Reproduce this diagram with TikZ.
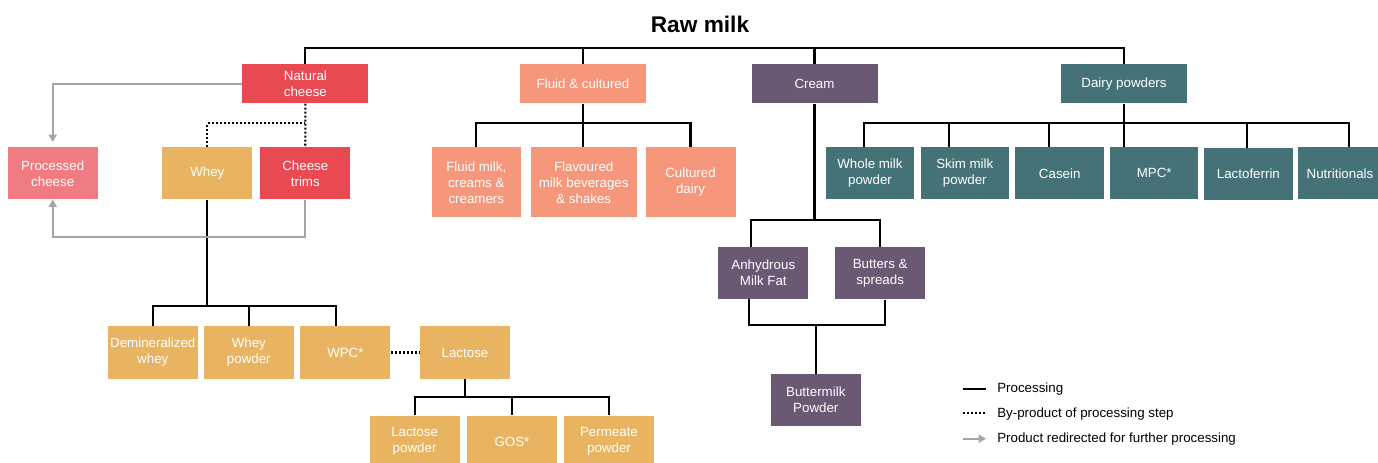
\documentclass[tikz,border=0pt]{standalone}
\usepackage{fontspec}
\setmainfont{Liberation Sans}
\usepackage{tikz}
\usetikzlibrary{positioning}
\usetikzlibrary{arrows.meta}

\definecolor{cheesered}{HTML}{E94A52}
\definecolor{cheesepink}{HTML}{F07B80}
\definecolor{wheygold}{HTML}{E8B461}
\definecolor{fluidsalmon}{HTML}{F6977C}
\definecolor{creampurple}{HTML}{6B5872}
\definecolor{powderteal}{HTML}{447277}
\definecolor{redirgray}{HTML}{A5A5A5}

\begin{document}
\begin{tikzpicture}[x=0.75pt,y=-0.75pt,
  prodbox/.style={rectangle,inner sep=0pt,align=center,text=white,
    font=\fontsize{10}{12}\selectfont,minimum width=67.5pt,minimum height=39pt},
  headbox/.style={minimum width=94.5pt,minimum height=29.25pt},
  fluidbox/.style={minimum height=52.5pt},
  legtext/.style={anchor=base west,inner sep=0pt,font=\fontsize{10}{12}\selectfont},
  proc/.style={line width=1.6pt,black},
  byprod/.style={line width=1.6pt,black,dash pattern=on 1.6pt off 1.4pt},
  redir/.style={line width=1.5pt,redirgray,-{Triangle[length=5.5pt,width=6pt]}}]
\useasboundingbox (0,0) rectangle (1378,463);

\node[font=\fontsize{17}{20}\selectfont\bfseries] (raw) at (700,24) {Raw milk};

% first level
\node[prodbox,headbox,fill=cheesered] (nat) at (305.4,83.8) {Natural\\cheese};
\node[prodbox,headbox,fill=fluidsalmon] (fluid) at (583,83.8) {Fluid \& cultured};
\node[prodbox,headbox,fill=creampurple] (cream) at (814.5,83.8) {Cream};
\node[prodbox,headbox,fill=powderteal] (dairy) at (1124,83.8) {Dairy powders};

% cheese
\node[prodbox,fill=cheesepink] (pcheese) at (52.7,173.3) {Processed\\cheese};
\node[prodbox,fill=wheygold] (whey) at (207.3,173.3) {Whey};
\node[prodbox,fill=cheesered] (trims) at (305.3,173.3) {Cheese\\trims};

\node[prodbox,fill=wheygold] (demin) at (152.8,352.5) {Demineralized\\whey};
\node[prodbox,fill=wheygold] (wpow) at (248.8,352.5) {Whey\\powder};
\node[prodbox,fill=wheygold] (wpc) at (345.4,352.5) {WPC*};
\node[prodbox,fill=wheygold] (lact) at (465,352.5) {Lactose};

\node[prodbox,fill=wheygold] (lpow) at (414.6,441.7) {Lactose\\powder};
\node[prodbox,fill=wheygold] (gos) at (512,441.7) {GOS*};
\node[prodbox,fill=wheygold] (perm) at (609,441.7) {Permeate\\powder};

% fluid
\node[prodbox,fluidbox,fill=fluidsalmon,minimum width=66.75pt] (fmilk) at (476.3,182.3) {Fluid milk,\\creams \&\\creamers};
\node[prodbox,fluidbox,fill=fluidsalmon,minimum width=79.5pt] (flav) at (583.7,182.3) {Flavoured\\milk beverages\\\& shakes};
\node[prodbox,fluidbox,fill=fluidsalmon] (cult) at (690.5,182.3) {Cultured\\dairy};

% cream
\node[prodbox,fill=creampurple] (anhyd) at (763.3,273) {Anhydrous\\Milk Fat};
\node[prodbox,fill=creampurple] (butter) at (880.2,273.5) {Butters \&\\spreads};
\node[prodbox,fill=creampurple] (bmilk) at (815.8,400.2) {Buttermilk\\Powder};

% powders
\node[prodbox,fill=powderteal,minimum width=66.4pt] (wmp) at (870,173.3) {Whole milk\\powder};
\node[prodbox,fill=powderteal,minimum width=66.4pt] (smp) at (964.8,173.3) {Skim milk\\powder};
\node[prodbox,fill=powderteal,minimum width=66.4pt] (casein) at (1059.7,173.3) {Casein};
\node[prodbox,fill=powderteal,minimum width=66.4pt] (mpc) at (1154.2,173.3) {MPC*};
\node[prodbox,fill=powderteal,minimum width=66.4pt] (lacto) at (1248.4,174) {Lactoferrin};
\node[prodbox,fill=powderteal,minimum width=63pt] (nutri) at (1340,173.3) {Nutritionals};

% bus heights
\coordinate (topbus) at (0,47.7);
\coordinate (midbus) at (0,123.3);
\coordinate (cbus) at (0,220);
\coordinate (bbus) at (0,325);
\coordinate (wbus) at (0,305.7);
\coordinate (lbus) at (0,396.7);
\coordinate (anhup) at ([xshift=-9.5pt]anhyd.north);
\coordinate (anhdown) at ([xshift=-10.7pt]anhyd.south);
\coordinate (butdown) at ([xshift=3.6pt]butter.south);
\coordinate (wpcup) at ([xshift=-7.3pt]wpc.north);
\coordinate (wmpup) at ([xshift=-4.8pt]wmp.north);
\coordinate (nutup) at ([xshift=6.6pt]nutri.north);

% processing
\draw[proc] (nat.north) |- (topbus -| dairy.north) -- (dairy.north);
\draw[proc] (fluid.north) -- (fluid.north |- topbus);
\draw[proc] (cream.north) -- (cream.north |- topbus);

\draw[proc] (fmilk.north) |- (midbus -| cult.north) -- (cult.north);
\draw[proc] (fluid.south) -- (fluid.south |- flav.north);

\draw[proc] (wmpup) |- (midbus -| nutup) -- (nutup);
\draw[proc] (dairy.south) -- (dairy.south |- mpc.north);
\draw[proc] ([xshift=-12pt]smp.north) -- ++(0,-24);
\draw[proc] ([xshift=-8pt]casein.north) -- ++(0,-24);
\draw[proc] ([xshift=-1pt]lacto.north) -- ++(0,-24);

\draw[proc] (cream.south) -- (cream.south |- cbus);
\draw[proc] (anhup) |- (cbus -| butter.north) -- (butter.north);
\draw[proc] (anhdown) |- (bbus -| butdown) -- (butdown);
\draw[proc] (bmilk.north) -- (bmilk.north |- bbus);

\draw[proc] (whey.south) -- (whey.south |- wbus);
\draw[proc] (demin.north) |- (wbus -| wpcup) -- (wpcup);
\draw[proc] (wpow.north) -- (wpow.north |- wbus);

\draw[proc] (lact.south) -- (lact.south |- lbus);
\draw[proc] (lpow.north) |- (lbus -| perm.north) -- (perm.north);
\draw[proc] (gos.north) -- (gos.north |- lbus);

% by-products
\draw[byprod] (nat.south) -- (trims.north);
\draw[byprod] (whey.north) |- (midbus -| nat.south);
\draw[byprod] (wpc) -- (lact);

% redirected
\draw[redir,shorten >=3.75pt] (nat.west) -| (pcheese.north);
\draw[redir] (trims.south) -- ++(0,37) -| (pcheese.south);

% legend
\coordinate (k1a) at (963,389.3); \coordinate (k1b) at (986,389.3);
\coordinate (k2a) at (963,413.3); \coordinate (k2b) at (986,413.3);
\coordinate (k3a) at (963,438.7); \coordinate (k3b) at (986,438.7);
\draw[proc] (k1a) -- (k1b);
\draw[byprod] (k2a) -- (k2b);
\draw[redir] (k3a) -- (k3b);
\node[legtext] (lproc) at (997,392.8) {Processing};
\node[legtext] (lby) at (997,417) {By-product of processing step};
\node[legtext] (lred) at (997,442.3) {Product redirected for further processing};
\end{tikzpicture}
\end{document}
